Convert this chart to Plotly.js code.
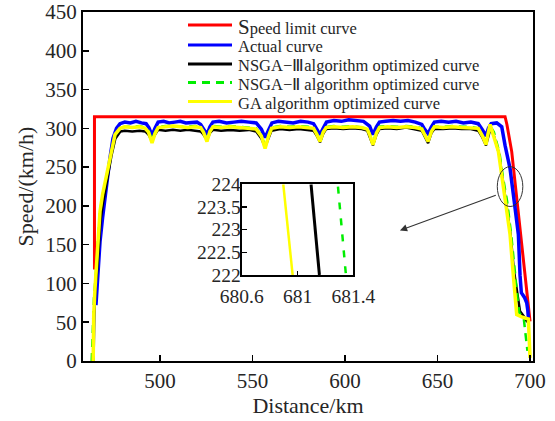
<!DOCTYPE html>
<html>
<head>
<meta charset="utf-8">
<script src="https://cdn.plot.ly/plotly-3.0.1.min.js"></script>
<style>html,body{margin:0;padding:0;background:#fff;}#chart{width:555px;height:421px;}</style>
</head>
<body>
<div id="chart"></div>
<script>
// ---------- data (distance km, speed km/h) ----------
const seriesNames = [
  '<span style="font-size:21px">S</span>peed limit curve',
  'Actual curve',
  'NSGA\u2212\u2162algorithm optimized curve',
  'NSGA\u2212\u2161 algorithm optimized curve',
  'GA algorithm optimized curve'
];

const distLimit  = [464.6, 464.6, 686.5, 687.5, 690.1, 698.2, 700];
const speedLimit = [118, 315, 315, 305, 270, 90, 51];

const distActual = [465.4,465.7,466.5,467.6,469,471.2,473,474.6,476.5,478.4,481,484,487,490,492.5,494,495.7,497.3,499,502,505,508,511,514,517,520,522,523.5,525.4,527,528.6,532,536,540,544,548,552,554.8,556.8,558.7,560.5,564,568,572,576,580,583,584.6,586.5,588.2,590,594,598,602,606,610,613.3,615.1,617,618.6,622,626,630,634,638,641.5,643,644.9,646.7,648.3,652,656,660,664,668,672,674.3,676.2,677.5,679,682,684.7,686.5,689.2,691.5,693.7,694.6,695.3,697,698.2,698.8,699.1];
const speedActual = [72,85,115,154,185,231,262,287,300,306,308,307,309,307,306,301,291,300,308,309,307,308,309,307,308,308,305,300,292,302,308,309,307,308,309,308,307,299,288,298,307,309,308,307,309,308,306,299,292,300,308,310,309,311,310,309,303,292,302,308,309,310,309,310,308,305,299,293,302,308,309,308,309,307,308,306,298,290,300,306,307,302,278,248,205,163,110,88,82,75,65,56];

const distNSGA3 = [464.1,464.5,465.2,465.9,466.8,467.9,469.3,471.5,473.8,475.9,478.6,481,485,489,492,493.8,495.7,497.3,499,503,507,511,515,519,522,523.5,525.4,527,528.6,533,538,543,548,552,554.8,556.8,558.7,560.3,565,570,575,580,583,584.6,586.5,588.2,589.8,594,599,604,609,612,613.3,615.1,617,618.6,623,628,633,638,641.5,643,644.9,646.7,648.3,653,658,663,668,672,674.3,676.2,677.4,678.6,680.5,683.2,685,687,689.5,691.2,693.7,694.6,696.5,698.5];
const speedNSGA3 = [0,60,100,113,140,182,205,236,265,287,296,297,296,297,296,292,284,292,298,297,298,297,298,297,296,292,285,294,298,297,298,297,298,296,287,276,288,297,299,298,299,298,297,291,282,293,299,300,299,300,299,297,290,278,292,299,300,299,301,299,297,290,281,294,299,299,300,299,299,297,288,278,290,300,290,268,238,206,163,118,81,64,58,50];

const distNSGA2 = [463.1,463.6,464.3,465.2,466.2,467.5,469,471.2,473.5,475.7,478.4,481,485,489,492,493.8,495.7,497.3,499,503,507,511,515,519,522,523.5,525.4,527,528.6,533,538,543,548,552,554.8,556.8,558.7,560.3,565,570,575,580,583,584.6,586.5,588.2,589.8,594,599,604,609,612,613.3,615.1,617,618.6,623,628,633,638,641.5,643,644.9,646.7,648.3,653,658,663,668,672,674.3,676.2,677.3,678.5,680.5,683.5,685.5,687.6,689.8,691.5,693.2,694.2,696.5,698.6];
const speedNSGA2 = [0,40,80,108,140,190,214,240,268,291,300,302,302,303,301,297,285,295,302,303,303,302,302,303,301,296,285,297,303,302,303,302,301,300,291,277,291,301,303,302,303,302,300,294,285,296,302,303,302,303,301,299,293,281,295,302,303,302,303,302,300,293,285,297,302,302,303,302,302,300,291,281,293,303,295,268,235,206,163,120,82,62,57,13];

const distGA = [463.9,464.2,464.9,465.5,466.5,467.6,469,471.2,473.5,475.7,478.4,481,485,489,492,493.8,495.7,497.3,499,503,507,511,515,519,522,523.5,525.4,527,528.6,533,538,543,548,552,554.8,556.8,558.7,560.3,565,570,575,580,583,584.6,586.5,588.2,589.8,594,599,604,609,612,613.3,615.1,617,618.6,623,628,633,638,641.5,643,644.9,646.7,648.3,653,658,663,668,672,674.3,676.2,677.2,678.4,682.9,684.8,686.5,689.2,690.8,691.9,692.8,695.5,698.2,699.1,700];
const speedGA = [0,60,94,115,150,193,215,240,268,292,300,302,301,302,300,295,281,293,301,302,303,302,301,302,301,295,283,296,302,301,302,301,300,299,290,274,290,300,302,301,302,301,300,293,283,295,301,302,301,302,301,299,292,279,294,301,302,301,302,301,299,292,283,296,302,301,302,301,301,300,290,279,292,305,270,238,206,163,115,77,60,57,55,54,4];

// inset (zoomed window)
const insetDistGA    = [680.898, 680.965];
const insetSpeedGA   = [224, 222];
const insetDistNSGA3 = [681.097, 681.157];
const insetSpeedNSGA3= [224, 222];
const insetDistNSGA2 = [681.29, 681.347];
const insetSpeedNSGA2= [223.95, 222];

const xTicks = [500, 550, 600, 650, 700];
const yTicks = [0, 50, 100, 150, 200, 250, 300, 350, 400, 450];
const insetXTicks = [680.6, 681, 681.4];
const insetXTickText = ['680.6', '681', '681.4'];
const insetYTicks = [222, 222.5, 223, 223.5, 224];
const insetYTickText = ['222', '222.5', '223', '223.5', '224'];

// ---------- styles ----------
const colors = ['#ff0000', '#0000ff', '#000000', '#00ee00', '#ffff00'];
const FONT = 'Liberation Serif, Times New Roman, serif';
const TXT = '#262626';

const traces = [
  {x: distLimit,  y: speedLimit,  mode: 'lines', line: {color: colors[0], width: 3}},
  {x: distActual, y: speedActual, mode: 'lines', line: {color: colors[1], width: 3.5}},
  {x: distNSGA3,  y: speedNSGA3,  mode: 'lines', line: {color: colors[2], width: 2.5}},
  {x: distNSGA2,  y: speedNSGA2,  mode: 'lines', line: {color: colors[3], width: 2.5, dash: '8px,6px'}},
  {x: distGA,     y: speedGA,     mode: 'lines', line: {color: colors[4], width: 3.5}},
  {x: insetDistGA,    y: insetSpeedGA,    xaxis: 'x2', yaxis: 'y2', mode: 'lines', line: {color: colors[4], width: 2.5}},
  {x: insetDistNSGA3, y: insetSpeedNSGA3, xaxis: 'x2', yaxis: 'y2', mode: 'lines', line: {color: colors[2], width: 3}},
  {x: insetDistNSGA2, y: insetSpeedNSGA2, xaxis: 'x2', yaxis: 'y2', mode: 'lines', line: {color: colors[3], width: 2.5, dash: '7px,9px'}}
];
traces.forEach(t => { t.hoverinfo = 'skip'; t.showlegend = false; });

// manual legend (paper coords; plot area is 450 x 349 px)
const legRowsPx = [25, 45, 64, 82.5, 101.5];
const shapes = [];
const annotations = [];
legRowsPx.forEach((py, i) => {
  const yp = (361 - py) / 349;
  shapes.push({type: 'line', xref: 'paper', yref: 'paper', x0: (188 - 83) / 450, x1: (232 - 83) / 450, y0: yp, y1: yp,
    line: {color: colors[i], width: 3, dash: i === 3 ? '8px,6px' : 'solid'}});
  annotations.push({xref: 'paper', yref: 'paper', x: (237 - 83) / 450, y: (361 - py - 1.5) / 349,
    xanchor: 'left', yanchor: 'middle', showarrow: false, text: seriesNames[i],
    font: {family: FONT, size: 16.5, color: TXT}, borderpad: 0});
});
// ellipse marking the zoomed region
shapes.push({type: 'circle', xref: 'x', yref: 'y', x0: 682.3, x1: 696.1, y0: 199.2, y1: 250.6,
  line: {color: '#333', width: 1}});
// arrow
annotations.push({xref: 'x', yref: 'y', x: 629.7, y: 168.4, axref: 'x', ayref: 'y', ax: 682.3, ay: 214.3,
  text: '', showarrow: true, arrowhead: 2, arrowsize: 1.3, arrowwidth: 1.1, arrowcolor: '#333', standoff: 0, startstandoff: 0});

const axBase = {showline: true, mirror: true, linecolor: '#000', linewidth: 2, showgrid: false, zeroline: false,
  ticks: 'inside', tickcolor: '#000', tickwidth: 1.5, ticklen: 6,
  tickfont: {family: FONT, size: 21, color: TXT}};
const insetTickFont = {family: FONT, size: 19.5, color: TXT};

const layout = {
  width: 555, height: 421,
  margin: {l: 83, r: 22, t: 12, b: 60},
  paper_bgcolor: '#fff', plot_bgcolor: '#fff',
  showlegend: false,
  font: {family: FONT, color: TXT},
  xaxis: Object.assign({}, axBase, {range: [458.4, 701.6], tickmode: 'array', tickvals: xTicks,
    title: {text: 'Distance/km', font: {family: FONT, size: 22, color: TXT}, standoff: 4}}),
  yaxis: Object.assign({}, axBase, {range: [0, 450], tickmode: 'array', tickvals: yTicks,
    title: {text: 'Speed/(km/h)', font: {family: FONT, size: 22, color: TXT}, standoff: 6}}),
  xaxis2: Object.assign({}, axBase, {domain: [0.3527, 0.6007], anchor: 'y2', range: [680.6, 681.4],
    tickmode: 'array', tickvals: insetXTicks, ticktext: insetXTickText, ticklen: 4,
    tickfont: insetTickFont, ticklabelstandoff: 3}),
  yaxis2: Object.assign({}, axBase, {domain: [0.2464, 0.5063], anchor: 'x2', range: [222, 224],
    tickmode: 'array', tickvals: insetYTicks, ticktext: insetYTickText, ticklen: 5,
    tickfont: insetTickFont, ticklabelstandoff: -5}),
  shapes: shapes,
  annotations: annotations
};

Plotly.newPlot('chart', traces, layout, {staticPlot: true, displayModeBar: false});
</script>
</body>
</html>
